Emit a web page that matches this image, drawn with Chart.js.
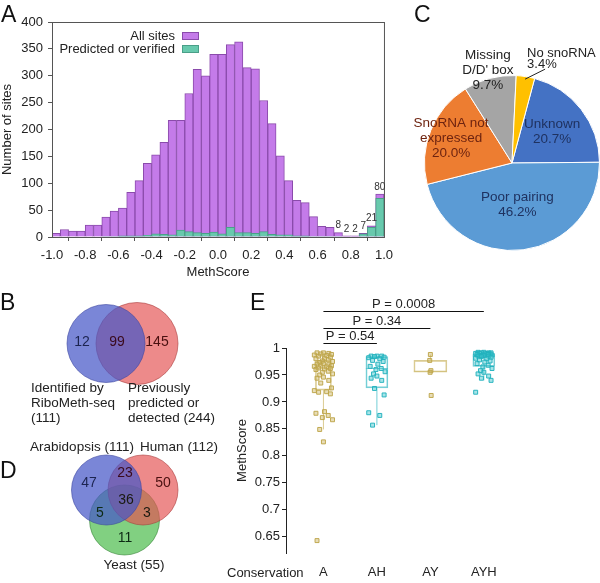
<!DOCTYPE html>
<html>
<head>
<meta charset="utf-8">
<script src="https://cdn.jsdelivr.net/npm/chart.js@4.4.1/dist/chart.umd.min.js"></script>
<style>
  body { margin: 0; background: #fff; }
  #wrap { position: relative; width: 600px; height: 583px; overflow: hidden; }
  #wrap canvas { position: absolute; }
</style>
</head>
<body>
<div id="wrap">
  <canvas id="cA" width="400" height="290" style="left:0;top:0"></canvas>
  <canvas id="cC" width="200" height="260" style="left:400px;top:0"></canvas>
  <canvas id="cB" width="220" height="150" style="left:0;top:285px"></canvas>
  <canvas id="cD" width="220" height="148" style="left:0;top:435px"></canvas>
  <canvas id="cE" width="380" height="298" style="left:220px;top:285px"></canvas>
</div>
<script>
// ---- data ----

// A: MethScore histogram, bins of 0.05
const binCenters = [-0.975, -0.925, -0.875, -0.825, -0.775, -0.725, -0.675, -0.625, -0.575, -0.525,
                    -0.475, -0.425, -0.375, -0.325, -0.275, -0.225, -0.175, -0.125, -0.075, -0.025,
                     0.025,  0.075,  0.125,  0.175,  0.225,  0.275,  0.325,  0.375,  0.425,  0.475,
                     0.525,  0.575,  0.625,  0.675,  0.725,  0.775,  0.825,  0.875,  0.925,  0.975];
const allSites = [7, 14, 11, 11, 22, 22, 37, 48, 54, 83,
                  105, 137, 153, 176, 217, 217, 267, 312, 300, 340,
                  340, 358, 363, 315, 313, 254, 211, 151, 105, 68,
                  64, 38, 20, 18, 8, 2, 2, 7, 21, 80];
const predictedSites = [0, 0, 0, 0, 0, 0, 1, 1, 2, 2,
                        2, 3, 6, 5, 4, 13, 10, 8, 7, 9,
                        6, 18, 8, 8, 7, 10, 5, 4, 4, 2,
                        2, 1, 1, 1, 1, 0, 0, 6, 18, 72];
const labelledBins = [34, 35, 36, 37, 38, 39];
const histLabels = ['All sites', 'Predicted or verified'];

// C: reasons for missing methylation
const pieLabels = ['Unknown', 'Poor pairing', 'SnoRNA not expressed', "Missing D/D' box", 'No snoRNA'];
const piePct = [20.7, 46.2, 20.0, 9.7, 3.4];

// B: two-set Venn
const vennBSets = [['Identified by', 'RiboMeth-seq', '(111)'], ['Previously', 'predicted or', 'detected (244)']];
const vennBCounts = [12, 99, 145];

// D: three-set Venn (A only, A+H, H only, A+H+Y, A+Y, H+Y, Y only)
const vennDSets = ['Arabidopsis (111)', 'Human (112)', 'Yeast (55)'];
const vennDCounts = [47, 23, 50, 36, 5, 3, 11];

// E: MethScore by conservation
const groups = ['A', 'AH', 'AY', 'AYH'];
const scoresA = [0.991, 0.991, 0.990, 0.989, 0.988, 0.987, 0.986, 0.985, 0.983, 0.981, 0.980, 0.978,
                 0.976, 0.975, 0.973, 0.971, 0.970, 0.969, 0.968, 0.967, 0.966, 0.965, 0.963, 0.962,
                 0.961, 0.960, 0.957, 0.955, 0.952, 0.950, 0.946, 0.944, 0.940, 0.935, 0.926,
                 0.921, 0.919, 0.918, 0.915, 0.882, 0.879, 0.875, 0.871, 0.867, 0.849, 0.826, 0.643];
const scoresAH = [0.985, 0.985, 0.985, 0.984, 0.983, 0.982, 0.980, 0.977, 0.975, 0.970, 0.966, 0.962,
                  0.960, 0.956, 0.952, 0.948, 0.944, 0.940, 0.925, 0.913, 0.880, 0.875, 0.857];
const scoresAY = [0.988, 0.977, 0.958, 0.955, 0.912];
const scoresAYH = [0.992, 0.992, 0.991, 0.991, 0.991, 0.990, 0.990, 0.990, 0.989,
                   0.989, 0.988, 0.988, 0.987, 0.987, 0.986, 0.986, 0.985, 0.985,
                   0.984, 0.983, 0.981, 0.980, 0.978, 0.976, 0.974, 0.971, 0.968,
                   0.965, 0.962, 0.958, 0.955, 0.952, 0.948, 0.944, 0.940, 0.918];
const boxQ1 = [0.922, 0.926, 0.955, 0.966];
const boxMedian = [0.962, 0.962, 0.957, 0.985];
const boxQ3 = [0.977, 0.984, 0.977, 0.989];
const whiskerLow = [0.849, 0.857, 0.955, 0.940];
const whiskerHigh = [0.991, 0.985, 0.988, 0.992];
const pTests = [['P = 0.54', 0, 1], ['P = 0.34', 0, 2], ['P = 0.0008', 0, 3]];
const eTicks = [0.65, 0.7, 0.75, 0.8, 0.85, 0.9, 0.95, 1];

// ---- layout / style ----
const FONT = "'Liberation Sans', Arial, sans-serif";
Chart.defaults.font.family = FONT;
Chart.defaults.font.size = 13;
Chart.defaults.color = '#222';
Chart.defaults.animation = false;

function txt(ctx, s, x, y, o = {}) {
  ctx.save();
  ctx.font = (o.size || 13) + 'px ' + FONT;
  ctx.fillStyle = o.color || '#222';
  ctx.textAlign = o.align || 'center';
  ctx.textBaseline = o.base || 'middle';
  ctx.fillText(s, x, y);
  ctx.restore();
}
function letter(ctx, s, x, y) { txt(ctx, s, x, y, {size: 23, align: 'left', base: 'alphabetic', color: '#111'}); }

// ---------- A ----------
new Chart(document.getElementById('cA'), {
  type: 'bar',
  data: {
    datasets: [
      {label: histLabels[0], data: binCenters.map((x, i) => ({x, y: allSites[i]})),
       backgroundColor: '#c47be9', borderColor: '#8a4bab', borderWidth: 1, order: 2},
      {label: histLabels[1], data: binCenters.map((x, i) => ({x, y: predictedSites[i]})),
       backgroundColor: '#68c9ad', borderColor: '#4a9f88', borderWidth: 1, order: 1}
    ]
  },
  options: {
    responsive: false,
    grouped: false,
    barPercentage: 1,
    categoryPercentage: 1,
    layout: {padding: {top: 22, right: 10, left: 0, bottom: 0}},
    plugins: {legend: {display: false}, tooltip: {enabled: false}},
    scales: {
      x: {
        type: 'linear', min: -1, max: 1, offset: false,
        ticks: {stepSize: 0.2, padding: 7, callback: v => (Math.abs(v) < 1e-9 ? 0 : v).toFixed(1)},
        grid: {drawOnChartArea: false, tickLength: 4, color: '#555'},
        border: {color: '#555'},
        title: {display: true, text: 'MethScore', padding: {top: 0, bottom: 10}},
        afterFit: s => { s.height = 53; }
      },
      y: {
        min: 0, max: 400,
        ticks: {stepSize: 50, padding: 5},
        grid: {drawOnChartArea: false, tickLength: 4, color: '#555'},
        border: {color: '#555'},
        title: {display: true, text: 'Number of sites', padding: {top: 0, bottom: 0}},
        afterFit: s => { s.width = 52; }
      }
    }
  },
  plugins: [{
    id: 'histExtras',
    afterDatasetsDraw(chart) {
      const {ctx, chartArea: a, scales: {x, y}} = chart;
      ctx.save();
      ctx.strokeStyle = '#555';
      ctx.lineWidth = 1;
      ctx.strokeRect(a.left + 0.5, a.top + 0.5, a.right - a.left, a.bottom - a.top);
      ctx.restore();
      labelledBins.forEach(i => {
        txt(ctx, String(allSites[i]), x.getPixelForValue(binCenters[i]),
            y.getPixelForValue(allSites[i]) - 2, {size: 10, base: 'bottom', color: '#333'});
      });
      // legend, text left of the swatch
      chart.data.datasets.forEach((ds, k) => {
        const yy = 36 + k * 13;
        txt(ctx, ds.label, 175, yy, {align: 'right'});
        ctx.save();
        ctx.fillStyle = ds.backgroundColor;
        ctx.strokeStyle = ds.borderColor;
        ctx.fillRect(182, yy - 4, 17, 8);
        ctx.strokeRect(182.5, yy - 3.5, 16, 7);
        ctx.restore();
      });
      letter(ctx, 'A', 1, 22);
    }
  }]
});

// ---------- C ----------
const pieColors = ['#4472c4', '#5b9bd5', '#ed7d31', '#a5a5a5', '#ffc000'];
const pieTextColors = ['#1f3260', '#1f3260', '#6e2410', '#222', '#222'];
const pieLines = [['Unknown', '20.7%'], ['Poor pairing', '46.2%'], ['SnoRNA not', 'expressed', '20.0%'],
                  ['Missing', "D/D' box", '9.7%'], ['No snoRNA', '3.4%']];
const pieLabelDist = [0.58, 0.48, 0.75, 1.09, null];
new Chart(document.getElementById('cC'), {
  type: 'pie',
  data: {labels: pieLabels, datasets: [{data: piePct, backgroundColor: pieColors, borderColor: '#fff', borderWidth: 1}]},
  options: {
    responsive: false,
    rotation: 15,
    layout: {padding: {left: 24, right: 0, top: 75, bottom: 9}},
    plugins: {legend: {display: false}, tooltip: {enabled: false}}
  },
  plugins: [{
    id: 'pieLabels',
    afterDatasetsDraw(chart) {
      const ctx = chart.ctx;
      chart.getDatasetMeta(0).data.forEach((arc, i) => {
        const {x, y, startAngle, endAngle, outerRadius} = arc.getProps(['x', 'y', 'startAngle', 'endAngle', 'outerRadius'], true);
        const mid = (startAngle + endAngle) / 2;
        const lines = pieLines[i];
        if (pieLabelDist[i] === null) {
          const sx = x + Math.cos(mid) * outerRadius * 0.97, sy = y + Math.sin(mid) * outerRadius * 0.97;
          ctx.save();
          ctx.strokeStyle = '#222';
          ctx.lineWidth = 1;
          ctx.beginPath(); ctx.moveTo(sx, sy); ctx.lineTo(sx + 20, sy - 10); ctx.stroke();
          ctx.restore();
          lines.forEach((s, k) => txt(ctx, s, sx + 2, 53 + k * 11, {align: 'left', size: 13, color: pieTextColors[i]}));
          return;
        }
        const cx = x + Math.cos(mid) * outerRadius * pieLabelDist[i];
        const cy = y + Math.sin(mid) * outerRadius * pieLabelDist[i];
        const lh = 15;
        lines.forEach((s, k) => txt(ctx, s, cx, cy + (k - (lines.length - 1) / 2) * lh, {size: 13.5, color: pieTextColors[i]}));
      });
      letter(ctx, 'C', 14, 22);
    }
  }]
});

// ---------- Venn helpers ----------
function venn(id, w, h, circles, extra) {
  return new Chart(document.getElementById(id), {
    type: 'bubble',
    data: {datasets: circles.map(c => ({data: [{x: c.x, y: c.y, r: c.r}], backgroundColor: c.fill,
                                         borderColor: c.line, borderWidth: 1, clip: false}))},
    options: {
      responsive: false,
      layout: {padding: 0, autoPadding: false},
      plugins: {legend: {display: false}, tooltip: {enabled: false}},
      scales: {
        x: {type: 'linear', display: false, min: 0, max: w},
        y: {type: 'linear', display: false, min: 0, max: h, reverse: true}
      }
    },
    plugins: [{id: 'vennText', afterDatasetsDraw: chart => extra(chart.ctx)}]
  });
}
const BLUE = {fill: 'rgba(70,88,200,0.72)', line: 'rgba(60,70,160,0.6)'};
const RED = {fill: 'rgba(228,82,82,0.68)', line: 'rgba(170,60,60,0.6)'};
const GREEN = {fill: 'rgba(70,185,70,0.68)', line: 'rgba(50,130,50,0.6)'};

// ---------- B ----------
venn('cB', 220, 150, [
  Object.assign({x: 106, y: 58.5, r: 39}, BLUE),
  Object.assign({x: 137, y: 58.5, r: 41}, RED)
], ctx => {
  const pos = [[82, 57, '#1c2450'], [117, 57, '#3a0a1c'], [157, 57, '#4a1010']];
  vennBCounts.forEach((n, i) => txt(ctx, String(n), pos[i][0], pos[i][1], {size: 14, color: pos[i][2]}));
  vennBSets[0].forEach((s, k) => txt(ctx, s, 31, 103 + k * 15, {align: 'left', size: 13.5}));
  vennBSets[1].forEach((s, k) => txt(ctx, s, 128, 103 + k * 15, {align: 'left', size: 13.5}));
  letter(ctx, 'B', 0, 25);
});

// ---------- D ----------
venn('cD', 220, 148, [
  Object.assign({x: 106.5, y: 55, r: 35}, BLUE),
  Object.assign({x: 143, y: 55, r: 35}, RED),
  Object.assign({x: 124.5, y: 85, r: 35}, GREEN)
], ctx => {
  const pos = [[89, 48, '#1c2450'], [125, 38, '#3a0a1c'], [163, 48, '#4a1010'], [126, 65, '#1a1a10'],
               [100, 78, '#0c2a14'], [147, 78, '#1a1a10'], [125, 103, '#0c2a14']];
  vennDCounts.forEach((n, i) => txt(ctx, String(n), pos[i][0], pos[i][1], {size: 14, color: pos[i][2]}));
  txt(ctx, vennDSets[0], 82, 12, {size: 13.5});
  txt(ctx, vennDSets[1], 179, 12, {size: 13.5});
  txt(ctx, vennDSets[2], 134, 130, {size: 13.5});
  letter(ctx, 'D', 0, 43);
});

// ---------- E ----------
const GOLD = {pt: 'rgba(204,180,95,0.45)', edge: 'rgba(190,165,75,0.95)', box: 'rgba(205,185,110,0.75)'};
const TEAL = {pt: 'rgba(60,195,205,0.45)', edge: 'rgba(35,178,190,0.95)', box: 'rgba(70,190,200,0.75)'};
const groupStyle = [GOLD, TEAL, GOLD, TEAL];
const groupScores = [scoresA, scoresAH, scoresAY, scoresAYH];
const boxWidth = [16, 22, 33, 22];
const jitter = [0, -0.12, 0.1, -0.05, 0.15, -0.17, 0.06, -0.09, 0.13, 0.02, -0.14, 0.09, -0.02, 0.17, -0.07];
const jitterScale = [1, 0.9, 0.1, 0.9];

new Chart(document.getElementById('cE'), {
  type: 'scatter',
  data: {
    datasets: [
      ...groups.map((g, i) => ({
        label: g,
        data: groupScores[i].map((v, k) => ({x: i + jitter[k % jitter.length] * jitterScale[i], y: v})),
        pointStyle: 'rect', pointRadius: 2.8, borderWidth: 1,
        backgroundColor: groupStyle[i].pt, borderColor: groupStyle[i].edge, order: 0
      })),
      ...groups.map((g, i) => ({
        type: 'bar', label: g + ' box',
        data: [{x: i, y: [boxQ1[i], boxQ3[i]]}],
        barThickness: boxWidth[i], grouped: false, borderSkipped: false,
        backgroundColor: 'rgba(255,255,255,0)', borderColor: groupStyle[i].box, borderWidth: 1, order: 1
      }))
    ]
  },
  options: {
    responsive: false,
    layout: {padding: {top: 63, right: 52, left: 0, bottom: 0}},
    plugins: {legend: {display: false}, tooltip: {enabled: false}},
    scales: {
      x: {
        type: 'linear', min: -0.7, max: 4.2, offset: false,
        grid: {display: false, drawTicks: false}, border: {display: false},
        afterBuildTicks: s => { s.ticks = groups.map((g, i) => ({value: i})); },
        ticks: {padding: 12, callback: v => groups[v]},
        afterFit: s => { s.height = 30; }
      },
      y: {
        min: 0.62, max: 1,
        afterBuildTicks: s => { s.ticks = eTicks.map(v => ({value: v})); },
        ticks: {padding: 2, callback: v => String(+v.toFixed(2))},
        grid: {drawOnChartArea: false, tickLength: 4, color: '#222'},
        border: {color: '#222'},
        title: {display: true, text: 'MethScore', padding: {top: 15, bottom: 0}},
        afterFit: s => { s.width = 66; }
      }
    }
  },
  plugins: [{
    id: 'boxExtras',
    beforeDatasetsDraw(chart) {
      const {ctx, scales: {x, y}} = chart;
      groups.forEach((g, i) => {
        const cx = x.getPixelForValue(i), hw = boxWidth[i] / 2;
        ctx.save();
        ctx.strokeStyle = groupStyle[i].box;
        ctx.lineWidth = 1;
        ctx.beginPath();
        ctx.moveTo(cx - hw, y.getPixelForValue(boxMedian[i]));
        ctx.lineTo(cx + hw, y.getPixelForValue(boxMedian[i]));
        ctx.moveTo(cx, y.getPixelForValue(boxQ1[i]));
        ctx.lineTo(cx, y.getPixelForValue(whiskerLow[i]));
        ctx.moveTo(cx, y.getPixelForValue(boxQ3[i]));
        ctx.lineTo(cx, y.getPixelForValue(whiskerHigh[i]));
        ctx.stroke();
        ctx.restore();
      });
    },
    afterDraw(chart) {
      const {ctx, scales: {x, y}} = chart;
      const levels = [1.009, 1.037, 1.068];
      pTests.forEach(([label, a, b], k) => {
        const x1 = x.getPixelForValue(a), x2 = x.getPixelForValue(b), yy = Math.round(y.getPixelForValue(levels[k])) + 0.5;
        ctx.save();
        ctx.strokeStyle = '#111';
        ctx.lineWidth = 1.2;
        ctx.beginPath(); ctx.moveTo(x1, yy); ctx.lineTo(x2, yy); ctx.stroke();
        ctx.restore();
        txt(ctx, label, (x1 + x2) / 2, yy - 1, {base: 'bottom'});
      });
      txt(ctx, 'Conservation', 7, 288, {align: 'left'});
      letter(ctx, 'E', 30, 25);
    }
  }]
});
</script>
</body>
</html>
